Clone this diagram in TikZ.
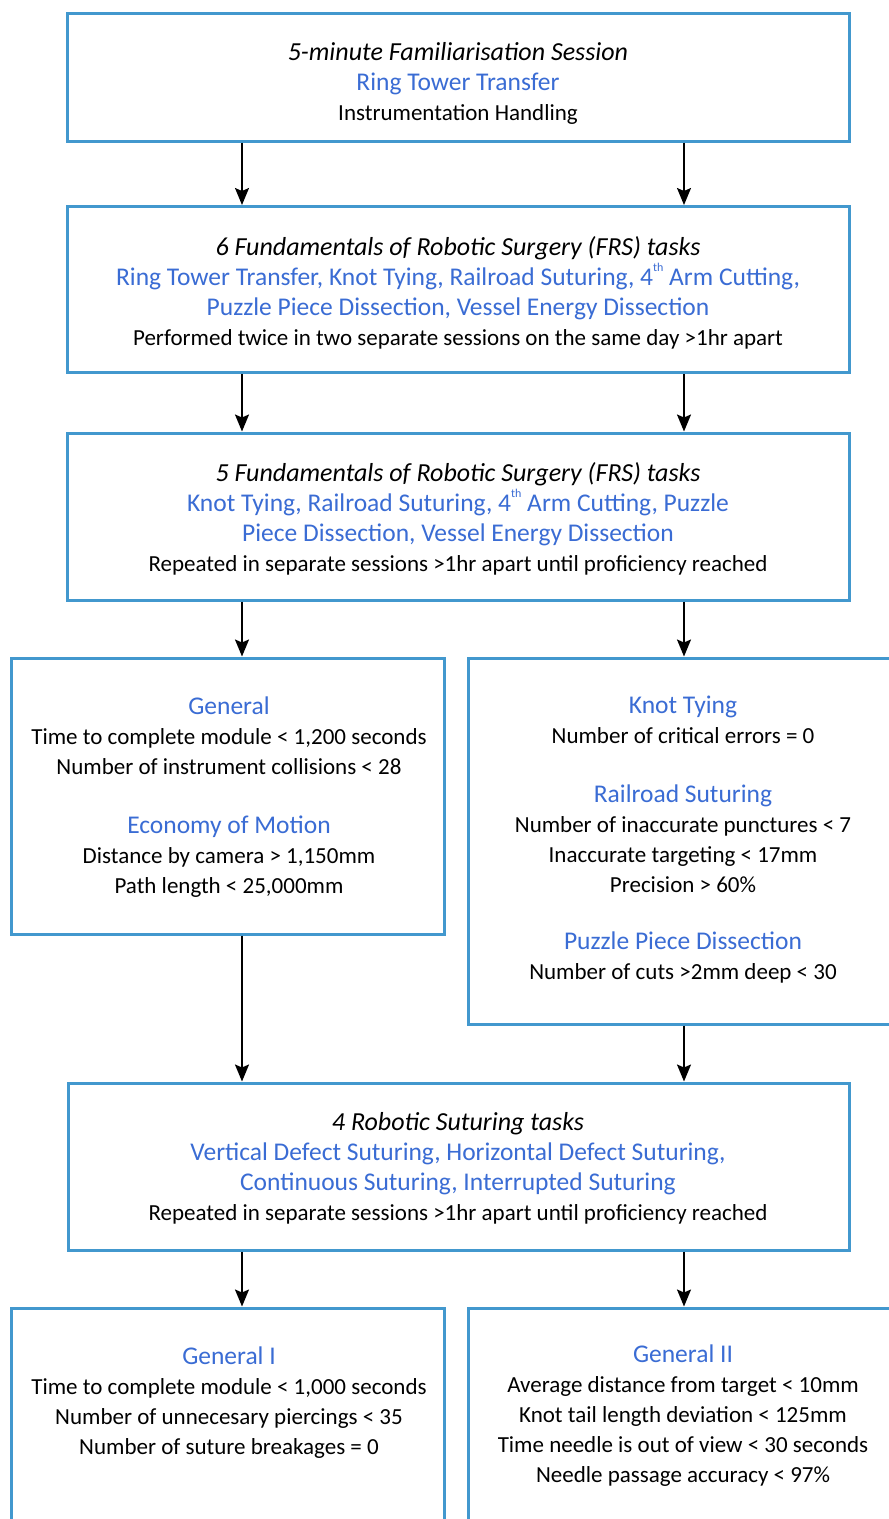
\documentclass[tikz,border=0pt]{standalone}
\usepackage{fontspec}
\setmainfont{Carlito}
\usetikzlibrary{arrows.meta}
\definecolor{boxblue}{RGB}{66,152,206}
\definecolor{txtblue}{RGB}{58,108,212}
\newcommand{\bl}[1]{{\color{txtblue}\fontsize{25.5}{30}\selectfont #1}}
\newcommand{\hd}[1]{{\color{txtblue}\fontsize{25.5}{30}\selectfont #1}}
\newcommand{\itl}[1]{{\fontsize{26}{30}\selectfont\itshape #1}}
\newcommand{\sth}{\raisebox{0.55em}{\fontsize{12}{12}\selectfont th}}
\begin{document}
\begin{tikzpicture}[x=1pt,y=-1pt,
  box/.style={draw=boxblue,line width=3pt,fill=white,rectangle,inner sep=0pt},
  txt/.style={align=center,inner sep=0pt,font=\fontsize{23}{30}\selectfont},
  arr/.style={-{Stealth[length=17pt,width=14pt,inset=3pt]},line width=1.8pt,black}]
\path[use as bounding box] (0,0) rectangle (889,1519);
\clip (0,0) rectangle (889,1519);
\fill[white] (0,0) rectangle (889,1519);
\coordinate (L) at (242,0);
\coordinate (R) at (684,0);
% boxes
\node[box,minimum width=782pt,minimum height=128pt] (b1) at (458,77) {};
\node[box,minimum width=782pt,minimum height=166pt] (b2) at (458,289.5) {};
\node[box,minimum width=782pt,minimum height=167pt] (b3) at (458,516.5) {};
\node[box,minimum width=433pt,minimum height=276pt] (b4) at (227.5,796) {};
\node[box,minimum width=430pt,minimum height=366pt] (b5) at (683,841) {};
\node[box,minimum width=781pt,minimum height=167pt] (b6) at (458.5,1166.5) {};
\node[box,minimum width=433pt,minimum height=232pt] (b7) at (227.5,1424) {};
\node[box,minimum width=430pt,minimum height=232pt] (b8) at (683,1424) {};
% texts
\node[txt] (t1) at (458,83) {\itl{5-minute Familiarisation Session}\\ \bl{Ring Tower Transfer}\\ Instrumentation Handling};
\node[txt] (t2) at (458,293) {\itl{6 Fundamentals of Robotic Surgery (FRS) tasks}\\ \bl{Ring Tower Transfer, Knot Tying, Railroad Suturing, 4\sth\ Arm Cutting,}\\ \bl{Puzzle Piece Dissection, Vessel Energy Dissection}\\ Performed twice in two separate sessions on the same day >1hr apart};
\node[txt] (t3) at (458,519) {\itl{5 Fundamentals of Robotic Surgery (FRS) tasks}\\ \bl{Knot Tying, Railroad Suturing, 4\sth\ Arm Cutting, Puzzle}\\ \bl{Piece Dissection, Vessel Energy Dissection}\\ Repeated in separate sessions >1hr apart until proficiency reached};
\node[txt] (t4) at (229,797) {\hd{General}\\ Time to complete module < 1,200 seconds\\ Number of instrument collisions < 28\\[29pt] \hd{Economy of Motion}\\ Distance by camera > 1,150mm\\ Path length < 25,000mm};
\node[txt] (t5) at (683,840) {\hd{Knot Tying}\\ Number of critical errors = 0\\[29pt] \hd{Railroad Suturing}\\ Number of inaccurate punctures < 7\\ Inaccurate targeting < 17mm\\ Precision > 60\%\\[27pt] \hd{Puzzle Piece Dissection}\\ Number of cuts >2mm deep < 30};
\node[txt] (t6) at (458,1168) {\itl{4 Robotic Suturing tasks}\\ \bl{Vertical Defect Suturing, Horizontal Defect Suturing,}\\ \bl{Continuous Suturing, Interrupted Suturing}\\ Repeated in separate sessions >1hr apart until proficiency reached};
\node[txt] (t7) at (229,1403) {\hd{General I}\\ Time to complete module < 1,000 seconds\\ Number of unnecesary piercings < 35\\ Number of suture breakages = 0};
\node[txt] (t8) at (683,1416) {\hd{General II}\\ Average distance from target < 10mm\\ Knot tail length deviation < 125mm\\ Time needle is out of view < 30 seconds\\ Needle passage accuracy < 97\%};
% arrows
\draw[arr] (b1.south -| L) -- (b2.north -| L);
\draw[arr] (b1.south -| R) -- (b2.north -| R);
\draw[arr] (b2.south -| L) -- (b3.north -| L);
\draw[arr] (b2.south -| R) -- (b3.north -| R);
\draw[arr] (b3.south -| L) -- (b4.north -| L);
\draw[arr] (b3.south -| R) -- (b5.north -| R);
\draw[arr] (b4.south -| L) -- (b6.north -| L);
\draw[arr] (b5.south -| R) -- (b6.north -| R);
\draw[arr] (b6.south -| L) -- (b7.north -| L);
\draw[arr] (b6.south -| R) -- (b8.north -| R);
\end{tikzpicture}
\end{document}
